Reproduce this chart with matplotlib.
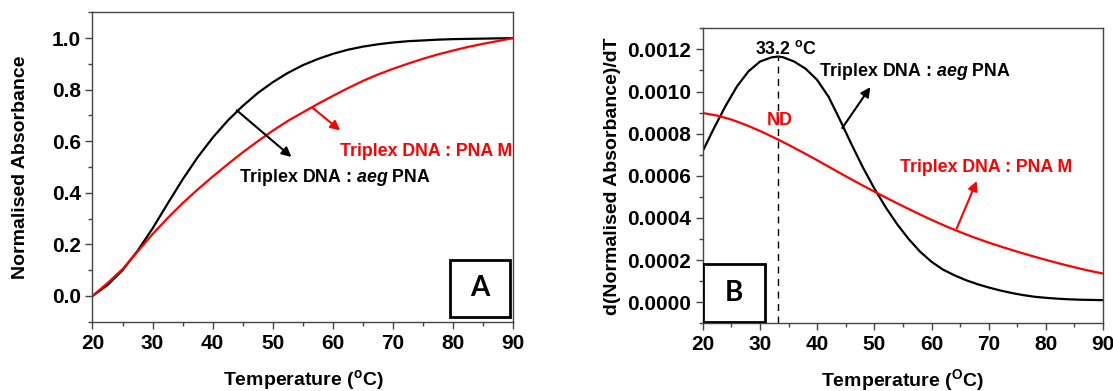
import matplotlib
matplotlib.use('Agg')
import matplotlib.pyplot as plt
from matplotlib.patches import Rectangle
from matplotlib.ticker import MultipleLocator, FormatStrFormatter

plt.rcParams['font.family'] = ['Liberation Sans', 'DejaVu Sans']
plt.rcParams['font.weight'] = 'bold'
plt.rcParams['mathtext.fontset'] = 'custom'
plt.rcParams['mathtext.rm'] = 'Liberation Sans:bold'
plt.rcParams['mathtext.it'] = 'Liberation Sans:italic:bold'
plt.rcParams['mathtext.bf'] = 'Liberation Sans:bold'

# Panel A: normalised absorbance vs temperature
temp_a = [20, 22.5, 25, 27.5, 30, 32.5, 35, 37.5, 40, 42.5, 45, 47.5, 50, 52.5, 55,
          57.5, 60, 62.5, 65, 67.5, 70, 72.5, 75, 77.5, 80, 82.5, 85, 87.5, 90]
abs_aeg = [0.0, 0.042, 0.10, 0.175, 0.262, 0.358, 0.452, 0.538, 0.614, 0.68, 0.737,
           0.787, 0.829, 0.865, 0.895, 0.919, 0.939, 0.955, 0.967, 0.976, 0.983,
           0.988, 0.991, 0.994, 0.996, 0.997, 0.998, 0.999, 1.0]
abs_pnam = [0.0, 0.05, 0.104, 0.172, 0.24, 0.302, 0.36, 0.413, 0.463, 0.511, 0.557,
            0.60, 0.641, 0.679, 0.712, 0.745, 0.776, 0.806, 0.834, 0.859, 0.881,
            0.901, 0.92, 0.937, 0.952, 0.966, 0.978, 0.989, 1.0]

# Panel B: first derivative
temp_b_aeg = [20, 22, 24, 26, 28, 30, 32, 33.2, 34, 36, 38, 40, 42, 44, 46, 48, 50,
              52, 54, 56, 58, 60, 62, 64, 66, 68, 70, 72, 74, 76, 78, 80, 82, 84,
              86, 88, 90]
deriv_aeg = [0.000717, 0.000828, 0.000932, 0.001025, 0.001096, 0.001142, 0.001162,
             0.001166, 0.001163, 0.001142, 0.001108, 0.001055, 0.000975, 0.000865,
             0.00075, 0.00064, 0.00054, 0.00045, 0.00037, 0.0003, 0.00024, 0.000192,
             0.000155, 0.000128, 0.000105, 0.000086, 0.00007, 0.000056, 0.000044,
             0.000034, 0.000026, 0.000021, 0.000017, 0.000014, 0.000012, 0.000011,
             0.00001]
temp_b_pnam = temp_a
deriv_pnam = [0.000898, 0.000886, 0.000867, 0.000842, 0.000813, 0.000781, 0.000747,
              0.000711, 0.000674, 0.000636, 0.000598, 0.000561, 0.000525, 0.00049,
              0.000456, 0.000423, 0.000391, 0.000361, 0.000333, 0.000307, 0.000283,
              0.000261, 0.00024, 0.00022, 0.000201, 0.000183, 0.000166, 0.00015,
              0.000136]
tm_aeg = 33.2

fig = plt.figure(figsize=(11.13, 3.91), dpi=100)
ax1 = fig.add_axes([0.0831, 0.1772, 0.3781, 0.7913])
ax2 = fig.add_axes([0.6314, 0.1731, 0.3597, 0.7545])


def style_axes(ax):
    for side in ['top', 'right', 'left', 'bottom']:
        ax.spines[side].set_color('#444444')
        ax.spines[side].set_linewidth(1.0)
    ax.tick_params(which='both', direction='out', top=False, right=False,
                   labelsize=15, color='#444444')
    ax.tick_params(which='major', length=5, width=1.0)
    ax.tick_params(which='minor', length=3, width=1.0)
    ax.set_xlim(20, 90)
    ax.xaxis.set_major_locator(MultipleLocator(10))
    ax.xaxis.set_minor_locator(MultipleLocator(5))


# ---- panel A
style_axes(ax1)
ax1.plot(temp_a, abs_aeg, color='black', lw=1.6)
ax1.plot(temp_a, abs_pnam, color='red', lw=1.6)
ax1.set_ylim(-0.1, 1.1)
ax1.yaxis.set_major_locator(MultipleLocator(0.2))
ax1.yaxis.set_minor_locator(MultipleLocator(0.1))
ax1.set_ylabel('Normalised Absorbance', fontsize=14, fontweight='bold', labelpad=16)
ax1.set_xlabel(r'Temperature ($^{\mathregular{o}}$C)', fontsize=14,
               fontweight='bold', labelpad=11)

ax1.annotate('', xy=(53.1, 0.539), xytext=(44.0, 0.72),
             arrowprops=dict(arrowstyle='-|>', color='black', lw=1.5,
                             mutation_scale=14, shrinkA=0, shrinkB=0))
ax1.annotate('', xy=(61.2, 0.642), xytext=(56.6, 0.73),
             arrowprops=dict(arrowstyle='-|>', color='red', lw=1.5,
                             mutation_scale=14, shrinkA=0, shrinkB=0))
ax1.text(89.8, 0.561, 'Triplex DNA : PNA M', color='red', fontsize=12.8,
         ha='right', va='center')
ax1.text(44.3, 0.461, r'Triplex DNA : $\mathit{aeg}$ PNA', color='black',
         fontsize=12.8, ha='left', va='center')
ax1.add_patch(Rectangle((79.4, -0.081), 10.0, 0.222, facecolor='white',
                        edgecolor='black', lw=2, zorder=5))
ax1.text(84.4, 0.03, 'A', fontsize=20, ha='center', va='center', zorder=6,
         family=['Lato', 'DejaVu Sans'], fontweight='bold')

# ---- panel B
style_axes(ax2)
ax2.plot(temp_b_aeg, deriv_aeg, color='black', lw=1.6)
ax2.plot(temp_b_pnam, deriv_pnam, color='red', lw=1.6)
ax2.set_ylim(-0.0001, 0.0013)
ax2.yaxis.set_major_locator(MultipleLocator(0.0002))
ax2.yaxis.set_minor_locator(MultipleLocator(0.0001))
ax2.yaxis.set_major_formatter(FormatStrFormatter('%.4f'))
ax2.set_ylabel('d(Normalised Absorbance)/dT', fontsize=14, fontweight='bold',
               labelpad=4)
ax2.set_xlabel(r'Temperature ($^{\mathregular{O}}$C)', fontsize=14,
               fontweight='bold', labelpad=9)

ax2.plot([tm_aeg, tm_aeg], [-0.0001, max(deriv_aeg)], color='black', lw=1.0,
         ls=(0, (5, 4)))
ax2.text(34.5, 0.0012, r'33.2 $^{\mathregular{o}}$C', fontsize=12.8,
         ha='center', va='center')
ax2.text(33.45, 0.000863, 'ND', color='red', fontsize=13, ha='center',
         va='center')
ax2.text(40.3, 0.001094, r'Triplex DNA : $\mathit{aeg}$ PNA', color='black',
         fontsize=12.8, ha='left', va='center')
ax2.annotate('', xy=(49.3, 0.001021), xytext=(44.4, 0.000827),
             arrowprops=dict(arrowstyle='-|>', color='black', lw=1.5,
                             mutation_scale=14, shrinkA=0, shrinkB=0))
ax2.text(84.6, 0.000638, 'Triplex DNA : PNA M', color='red', fontsize=12.8,
         ha='right', va='center')
ax2.annotate('', xy=(67.9, 0.000575), xytext=(64.4, 0.00035),
             arrowprops=dict(arrowstyle='-|>', color='red', lw=1.5,
                             mutation_scale=14, shrinkA=0, shrinkB=0))
ax2.add_patch(Rectangle((20.1, -0.0000917), 10.75, 0.0002727, facecolor='white',
                        edgecolor='black', lw=2, zorder=5))
ax2.text(25.45, 0.0000455, 'B', fontsize=20, ha='center', va='center', zorder=6,
         family=['Lato', 'DejaVu Sans'], fontweight='bold')

fig.savefig('out.png', dpi=100)
